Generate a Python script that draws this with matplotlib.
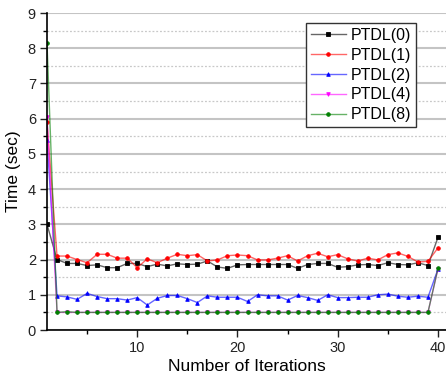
import numpy as np
import matplotlib
matplotlib.use("Agg")
import matplotlib.pyplot as plt
from matplotlib.ticker import MultipleLocator

plt.rcParams['font.family'] = ['Liberation Sans', 'DejaVu Sans']

iterations = list(range(1, 41))

ptdl0 = [3.00, 2.00, 1.89, 1.89, 1.83, 1.85, 1.77, 1.77, 1.89, 1.89,
         1.80, 1.87, 1.82, 1.88, 1.86, 1.87, 1.96, 1.79, 1.75, 1.85,
         1.86, 1.86, 1.86, 1.86, 1.86, 1.75, 1.86, 1.89, 1.89, 1.78,
         1.80, 1.85, 1.86, 1.83, 1.91, 1.86, 1.85, 1.91, 1.83, 2.63]
ptdl1 = [5.90, 2.10, 2.10, 2.00, 1.91, 2.15, 2.15, 2.04, 2.04, 1.77,
         2.02, 1.91, 2.04, 2.15, 2.11, 2.14, 1.96, 1.99, 2.11, 2.13,
         2.11, 1.99, 1.99, 2.04, 2.11, 1.96, 2.11, 2.18, 2.08, 2.14,
         2.02, 1.96, 2.04, 1.99, 2.14, 2.19, 2.09, 1.93, 1.95, 2.33]
ptdl2 = [5.40, 0.97, 0.94, 0.87, 1.04, 0.95, 0.89, 0.89, 0.85, 0.92,
         0.71, 0.90, 0.98, 0.98, 0.89, 0.78, 0.97, 0.93, 0.93, 0.93,
         0.81, 1.00, 0.97, 0.97, 0.85, 0.98, 0.92, 0.84, 1.00, 0.92,
         0.92, 0.93, 0.93, 1.00, 1.02, 0.96, 0.93, 0.96, 0.93, 1.73]
ptdl4 = [6.05] + [0.50] * 38 + [1.74]
ptdl8 = [8.15, 0.50, 0.52] + [0.50] * 36 + [1.75]

series = [
    ("PTDL(0)", ptdl0, "#000000", "s"),
    ("PTDL(1)", ptdl1, "#ff0000", "o"),
    ("PTDL(2)", ptdl2, "#0000ff", "^"),
    ("PTDL(4)", ptdl4, "#ff00ff", "v"),
    ("PTDL(8)", ptdl8, "#008000", "o"),
]

fig = plt.figure(figsize=(4.46, 3.76), dpi=100)
ax = fig.add_axes([0.1054, 0.1223, 0.8946, 0.8431])

for label, vals, col, mk in series:
    rgba = matplotlib.colors.to_rgba(col, 0.6)
    ax.plot(iterations, vals, color=rgba, lw=1.0, marker=mk, markersize=2.6,
            markerfacecolor=col, markeredgecolor=col, markeredgewidth=0.6,
            label=label)

ax.set_xlim(1, 40.8)
ax.set_ylim(0, 9)
ax.set_xticks([10, 20, 30, 40])
ax.xaxis.set_minor_locator(MultipleLocator(5))
ax.yaxis.set_major_locator(MultipleLocator(1))
ax.yaxis.set_minor_locator(MultipleLocator(0.5))

ax.grid(True, axis="y", which="major", color="#c4c4c4", lw=1.5, ls="-")
ax.grid(True, axis="y", which="minor", color="#c8c8c8", lw=0.9, ls=(0, (1.5, 1.5)))
ax.set_axisbelow(True)

for side in ("top", "right"):
    ax.spines[side].set_visible(False)
for side in ("left", "bottom"):
    ax.spines[side].set_linewidth(1.2)

ax.tick_params(which="major", direction="out", length=5, width=1, labelsize=10.5,
               colors="#222222", pad=3)
ax.tick_params(which="minor", direction="out", length=3, width=1)

ax.set_xlabel("Number of Iterations", fontsize=12.5, labelpad=3)
ax.set_ylabel("Time (sec)", fontsize=12.5, labelpad=5)

leg = ax.legend(loc="upper right", bbox_to_anchor=(0.925, 0.968), fontsize=11.5,
                fancybox=False, framealpha=1, edgecolor="#333333",
                handlelength=2.2, handletextpad=0.3, borderpad=0.3,
                labelspacing=0.3, borderaxespad=0)
leg.get_frame().set_linewidth(1.0)

fig.savefig("out.png", dpi=100)
